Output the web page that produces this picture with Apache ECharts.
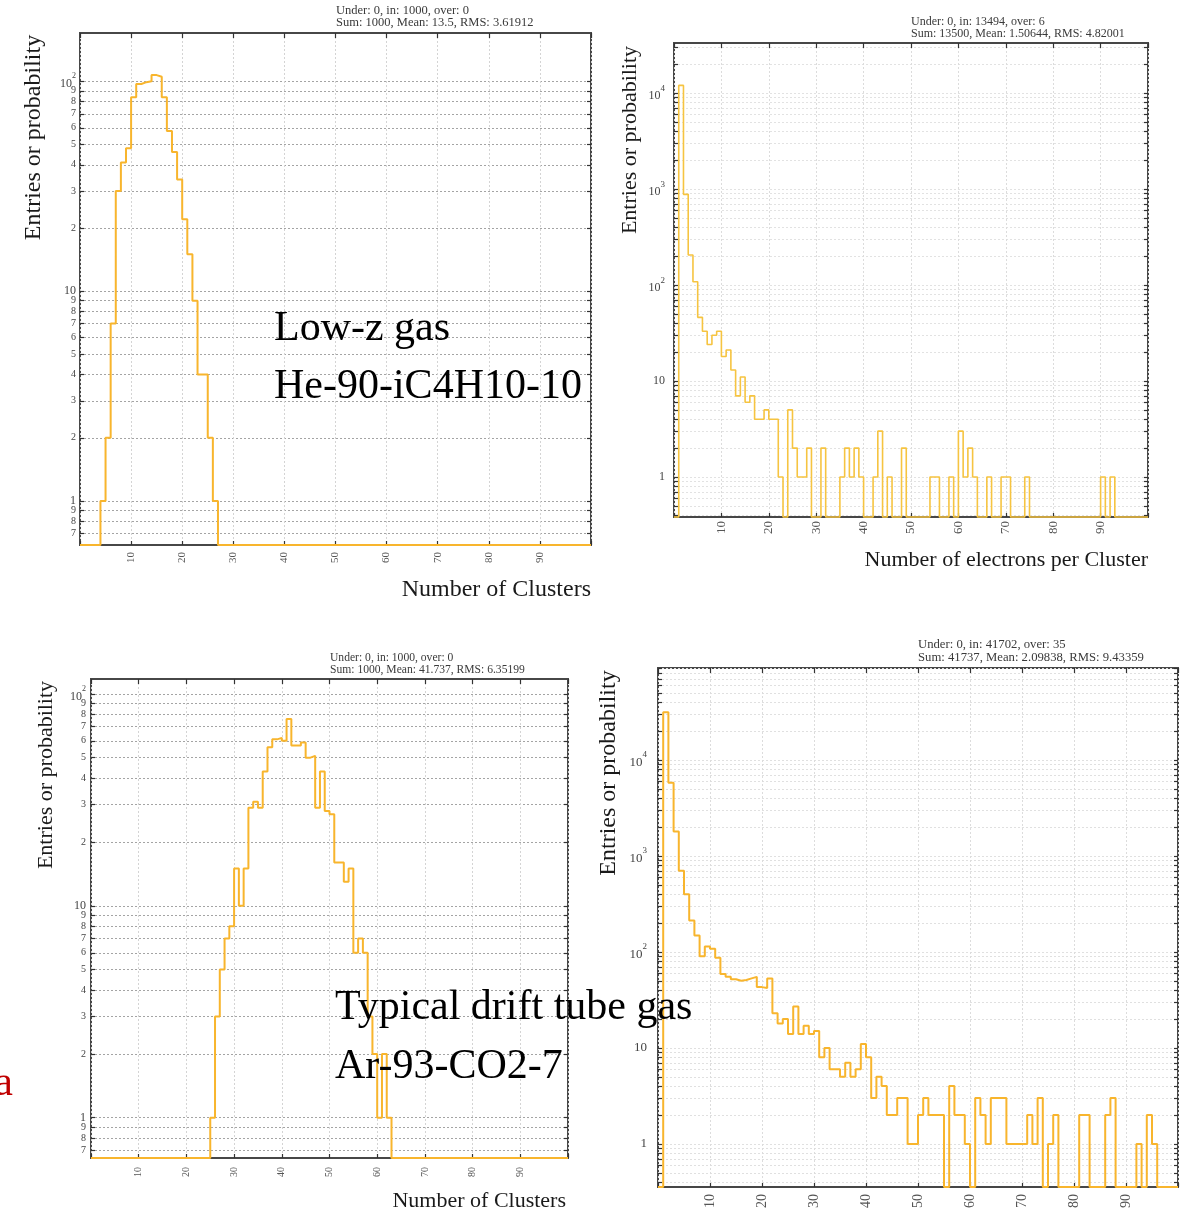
<!DOCTYPE html>
<html>
<head>
<meta charset="utf-8">
<script src="https://cdn.jsdelivr.net/npm/echarts@6/dist/echarts.min.js"></script>
<style>
html,body{margin:0;padding:0;background:#fff;}
#chart{width:1181px;height:1211px;}
</style>
</head>
<body>
<div id="chart"></div>
<script>
// ---------------- DATA ----------------
// x axis tick labels shared by all four histograms
const xTickLabels = [10, 20, 30, 40, 50, 60, 70, 80, 90];
// mantissas used for the log-axis ticks (1..9 x 10^k)
const logMantissas = [1, 2, 3, 4, 5, 6, 7, 8, 9];

// Panel A: He-90-iC4H10-10, Number of Clusters (bins of width 1, first non-empty bin = 4)
const clustersHeFirstBin = 4;
const clustersHeCounts = [1, 2, 7, 30, 41, 48, 84, 97, 99, 100, 107, 105, 84, 58, 46, 34, 22, 15, 9, 4, 4, 2, 1];

// Panel B: He-90-iC4H10-10, Number of electrons per Cluster (bins 0..99)
const electronsHeCounts = [
  0, 12000, 880, 205, 108, 46, 33, 24, 30, 33,
  18, 21, 13, 7, 11, 6, 7, 4, 4, 5,
  4, 4, 1, 0, 5, 2, 1, 1, 2, 0,
  0, 2, 0, 0, 0, 1, 2, 1, 2, 1,
  0, 0, 1, 3, 0, 1, 0, 0, 2, 0,
  0, 0, 0, 0, 1, 1, 0, 0, 1, 0,
  3, 1, 2, 1, 0, 0, 1, 0, 0, 1,
  1, 0, 0, 0, 1, 0, 0, 0, 0, 0,
  0, 0, 0, 0, 0, 0, 0, 0, 0, 0,
  1, 0, 1, 0, 0, 0, 0, 0, 0, 0
];

// Panel C: Ar-93-CO2-7, Number of Clusters (first non-empty bin = 25)
const clustersArFirstBin = 25;
const clustersArCounts = [1, 3, 5, 7, 8, 15, 10, 15, 29, 31, 29, 43, 56, 61, 62, 60, 76, 57, 57, 59,
  50, 51, 29, 43, 28, 27, 16, 16, 13, 15, 6, 7, 6, 3, 2, 1, 2, 1];

// Panel D: Ar-93-CO2-7, Number of electrons per Cluster (bins 0..99)
const electronsArCounts = [
  0, 31400, 5800, 1800, 700, 400, 212, 148, 90, 114,
  108, 87, 59, 55, 52, 50, 51, 53, 55, 43,
  42, 53, 23, 18, 20, 14, 27, 14, 17, 14,
  15, 8, 10, 6, 6, 5, 7, 5, 6, 11,
  8, 3, 5, 4, 2, 2, 3, 3, 1, 1,
  2, 3, 2, 2, 2, 0, 4, 2, 2, 1,
  0, 3, 2, 1, 3, 3, 3, 1, 1, 1,
  1, 2, 1, 3, 0, 1, 2, 0, 0, 0,
  0, 2, 2, 0, 0, 0, 2, 3, 0, 0,
  0, 0, 1, 0, 2, 1, 0, 0, 0, 0
];

// statistics boxes
const statsA = ['Under: 0, in: 1000, over: 0', 'Sum: 1000, Mean: 13.5, RMS: 3.61912'];
const statsB = ['Under: 0, in: 13494, over: 6', 'Sum: 13500, Mean: 1.50644, RMS: 4.82001'];
const statsC = ['Under: 0, in: 1000, over: 0', 'Sum: 1000, Mean: 41.737, RMS: 6.35199'];
const statsD = ['Under: 0, in: 41702, over: 35', 'Sum: 41737, Mean: 2.09838, RMS: 9.43359'];

// ---------------- helpers ----------------
const FONT = '"Liberation Serif","Times New Roman",serif';

function fullBins(counts, firstBin) {
  const full = new Array(100).fill(0);
  counts.forEach((c, i) => { full[firstBin + i] = c; });
  return full;
}
function stepData(full, yMin) {
  // left bin edges + closing edge; empty bins rest on the axis minimum
  const pts = full.map((c, i) => [i, c > 0 ? c : yMin]);
  pts.push([full.length, full[full.length - 1] > 0 ? full[full.length - 1] : yMin]);
  return pts;
}
function logTickExps(exp) {
  const out = [];
  for (let k = Math.floor(exp[0]); k <= Math.ceil(exp[1]); k++) {
    for (const m of logMantissas) {
      const e = k + Math.log10(m);
      if (e >= exp[0] - 1e-9 && e <= exp[1] + 1e-9) out.push(e);
    }
  }
  return out;
}
function decompose(e) {
  let k = Math.floor(e + 1e-6);
  let m = Math.round(Math.pow(10, e - k));
  if (m === 10) { m = 1; k += 1; }
  return { k, m, exact: Math.abs(k + Math.log10(m) - e) < 1e-6 };
}
function yFormatter(e) {
  const d = decompose(e);
  if (!d.exact) return ' ';           // blank guard labels at the axis ends
  if (d.m === 1) {
    if (d.k === 0) return '{m|1}';
    if (d.k === 1) return '{m|10}';
    return '{b|10}{s|' + d.k + '}';
  }
  return String(d.m);
}

// ---------------- panel styles ----------------
const panels = [
  { grid: { left: 80, top: 33, width: 511, height: 512 }, yExp: [-0.21, 2.23],
    counts: fullBins(clustersHeCounts, clustersHeFirstBin), minorLabels: true,
    xFont: 11, xMargin: 7, yFont: 10, yMajor: 12, ySup: 8, yMargin: 4,
    color: '#F8B52D', width: 2, hGrid: '#a4a4a4', vGrid: '#d4d4d4' },
  { grid: { left: 674, top: 43, width: 474, height: 474 }, yExp: [-0.417, 4.521],
    counts: electronsHeCounts, minorLabels: false,
    xFont: 13, xMargin: 4, yFont: 11, yMajor: 12, ySup: 9, yMargin: 9,
    color: '#F6C441', width: 1.6, hGrid: '#e2e2e2', vGrid: '#dcdcdc' },
  { grid: { left: 91, top: 679, width: 477, height: 479 }, yExp: [-0.19, 2.07],
    counts: fullBins(clustersArCounts, clustersArFirstBin), minorLabels: true,
    xFont: 10, xMargin: 9, yFont: 10, yMajor: 12, ySup: 8, yMargin: 5,
    color: '#F8B52D', width: 2, hGrid: '#a4a4a4', vGrid: '#d4d4d4' },
  { grid: { left: 658, top: 668, width: 520, height: 522 }, yExp: [-0.449, 4.958],
    counts: electronsArCounts, minorLabels: false,
    xFont: 14, xMargin: 7, yFont: 12, yMajor: 13, ySup: 9, yMargin: 11,
    color: '#F8B52D', width: 2, hGrid: '#e0e0e0', vGrid: '#dcdcdc' }
];

const option = {
  animation: false,
  backgroundColor: '#ffffff',
  grid: [], xAxis: [], yAxis: [], series: [], graphic: []
};

panels.forEach((p, i) => {
  option.grid.push(Object.assign({}, p.grid, {
    show: true, borderColor: '#474747', borderWidth: 2, backgroundColor: 'transparent'
  }));
  const xIdx = option.xAxis.length;
  option.xAxis.push({
    gridIndex: i, type: 'value', position: 'bottom', min: 0, max: 100, interval: 10,
    axisLine: { show: false, onZero: false },
    axisTick: { show: true, inside: true, length: 4, lineStyle: { color: '#333', width: 1.2 } },
    axisLabel: {
      customValues: xTickLabels, rotate: 90, fontSize: p.xFont, color: '#555',
      margin: p.xMargin, fontFamily: FONT, showMinLabel: true, showMaxLabel: true
    },
    splitLine: { show: true, lineStyle: { color: p.vGrid, type: [2, 2], width: 1 } }
  });
  option.xAxis.push({
    gridIndex: i, type: 'value', position: 'top', min: 0, max: 100, interval: 10,
    axisLine: { show: false, onZero: false },
    axisTick: { show: true, inside: true, length: 5, lineStyle: { color: '#333', width: 1.2 } },
    axisLabel: { show: false }, splitLine: { show: false }
  });

  const ticks = logTickExps(p.yExp);
  const labels = [p.yExp[0]]
    .concat(p.minorLabels ? ticks : ticks.filter(e => decompose(e).m === 1))
    .concat([p.yExp[1]]);
  const yIdx = option.yAxis.length;
  option.yAxis.push({
    gridIndex: i, type: 'log', position: 'left',
    min: Math.pow(10, p.yExp[0]), max: Math.pow(10, p.yExp[1]), show: false
  });
  option.yAxis.push({
    gridIndex: i, type: 'value', position: 'left', min: p.yExp[0], max: p.yExp[1],
    axisLine: { show: false, onZero: false },
    axisTick: { show: true, inside: true, length: 4, customValues: ticks, lineStyle: { color: '#333', width: 1.2 } },
    axisLabel: {
      customValues: labels, formatter: yFormatter, fontSize: p.yFont, color: '#444',
      fontFamily: FONT, margin: p.yMargin,
      rich: {
        m: { fontSize: p.yMajor, fontFamily: FONT, color: '#444' },
        b: { fontSize: p.yMajor, fontFamily: FONT, color: '#444', lineHeight: p.yMajor + 6, verticalAlign: 'bottom' },
        s: { fontSize: p.ySup, fontFamily: FONT, color: '#444', lineHeight: p.ySup + 2, verticalAlign: 'top' }
      }
    },
    splitLine: { show: true, lineStyle: { color: p.hGrid, type: [2, 2], width: 1 } }
  });
  option.yAxis.push({
    gridIndex: i, type: 'value', position: 'right', min: p.yExp[0], max: p.yExp[1],
    axisLine: { show: false, onZero: false },
    axisTick: { show: true, inside: true, length: 4, customValues: ticks, lineStyle: { color: '#333', width: 1.2 } },
    axisLabel: { show: false }, splitLine: { show: false }
  });

  option.series.push({
    type: 'line', xAxisIndex: xIdx, yAxisIndex: yIdx, step: 'end',
    symbol: 'none', showSymbol: false, clip: false, z: 5,
    lineStyle: { color: p.color, width: p.width },
    data: stepData(p.counts, Math.pow(10, p.yExp[0]))
  });
});

function txt(text, x, y, size, opts) {
  opts = opts || {};
  return {
    type: 'text', x: x, y: y, z: 100, rotation: opts.rotation || 0, silent: true,
    style: {
      text: text, font: size + 'px ' + FONT, fill: opts.fill || '#1a1a1a',
      align: opts.align || 'left', verticalAlign: 'middle'
    }
  };
}

const R = Math.PI / 2;
option.graphic = [
  // statistics
  txt(statsA[0], 336, 11, 12.5, { fill: '#3a3a3a' }), txt(statsA[1], 336, 23, 12.5, { fill: '#3a3a3a' }),
  txt(statsB[0], 911, 22, 12, { fill: '#3a3a3a' }), txt(statsB[1], 911, 34, 12, { fill: '#3a3a3a' }),
  txt(statsC[0], 330, 658, 11.6, { fill: '#3a3a3a' }), txt(statsC[1], 330, 670, 11.6, { fill: '#3a3a3a' }),
  txt(statsD[0], 918, 644.5, 12.7, { fill: '#3a3a3a' }), txt(statsD[1], 918, 657.5, 12.7, { fill: '#3a3a3a' }),
  // axis titles
  txt('Entries or probability', 33.5, 137.5, 24, { rotation: R, align: 'center' }),
  txt('Entries or probability', 630.5, 140, 22, { rotation: R, align: 'center' }),
  txt('Entries or probability', 46.5, 775, 22, { rotation: R, align: 'center' }),
  txt('Entries or probability', 608.5, 773, 24, { rotation: R, align: 'center' }),
  txt('Number of Clusters', 591, 590, 24, { align: 'right' }),
  txt('Number of electrons per Cluster', 1148, 560, 22, { align: 'right' }),
  txt('Number of Clusters', 566, 1201, 22, { align: 'right' }),
  // overlay annotations
  txt('Low-z gas', 274, 329, 42, { fill: '#000' }),
  txt('He-90-iC4H10-10', 274, 387, 42, { fill: '#000' }),
  txt('Typical drift tube gas', 335, 1008, 42, { fill: '#000' }),
  txt('Ar-93-CO2-7', 335, 1067, 42, { fill: '#000' }),
  txt('a', 13, 1084, 42, { fill: '#C00000', align: 'right' })
];

const chart = echarts.init(document.getElementById('chart'), null, { renderer: 'canvas' });
chart.setOption(option);
</script>
</body>
</html>
